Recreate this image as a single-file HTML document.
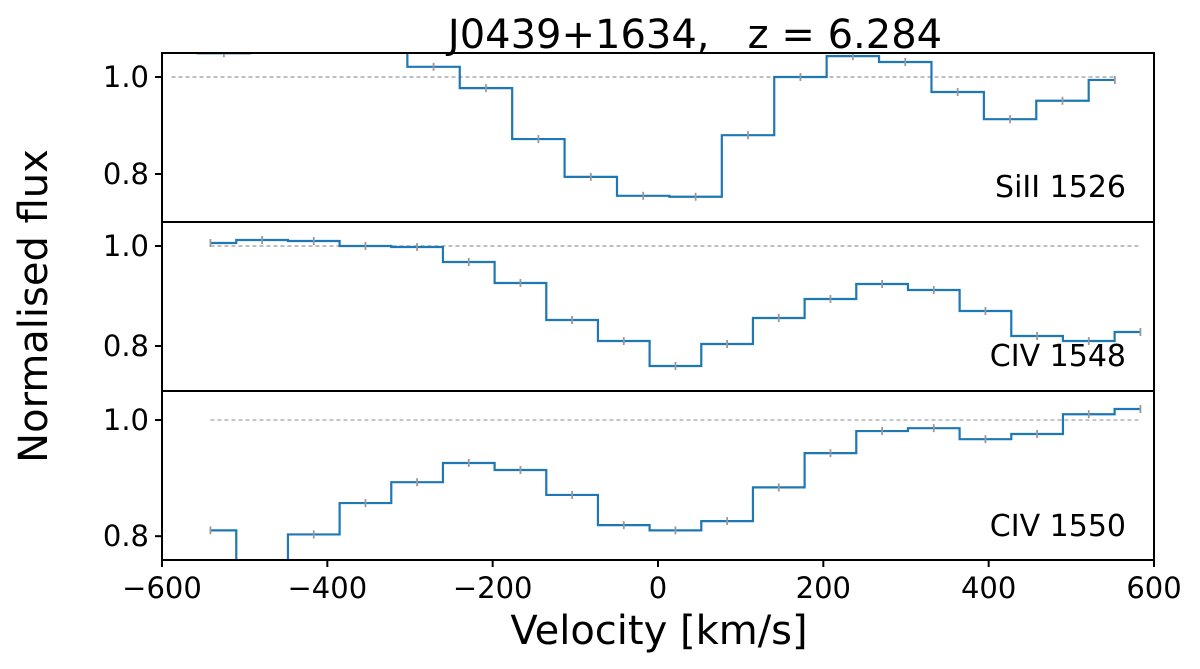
<!DOCTYPE html>
<html><head><meta charset="utf-8"><style>
body{margin:0;background:#fff}
svg{display:block;font-family:"DejaVu Sans","Liberation Sans",sans-serif}
</style></head><body>
<svg id="chart" width="1200" height="669" viewBox="0 0 1200 669" xmlns="http://www.w3.org/2000/svg"></svg>
<script>
// Data
const topVel0 = -588.5, topDv = 63.4;
const siiiFlux = [1.10,1.049,1.10,1.12,1.10,1.021,0.977,0.872,0.794,0.755,0.753,0.880,1.0,1.043,1.031,0.969,0.913,0.951,0.994];
const civVel0 = -541.4, civDv = 62.5;
const civ1548Flux = [1.006,1.012,1.01,1.0,0.998,0.968,0.926,0.852,0.81,0.76,0.804,0.856,0.894,0.924,0.912,0.87,0.82,0.81,0.828];
const civ1550Flux = [0.81,0.745,0.803,0.857,0.893,0.926,0.914,0.871,0.819,0.81,0.826,0.884,0.943,0.981,0.986,0.967,0.976,1.01,1.019];
const xTicks = [-600,-400,-200,0,200,400,600];
const yTicks = [0.8,1.0];
const panelLabels = ["SiII 1526","CIV 1548","CIV 1550"];

const svg = document.getElementById('chart');
const NS = 'http://www.w3.org/2000/svg';
function mk(tag, attrs, parent){const e=document.createElementNS(NS,tag);for(const k in attrs)e.setAttribute(k,attrs[k]);(parent||svg).appendChild(e);return e;}
const X0=162, X1=1154;
const xs = v => X0 + (v+600)/1200*(X1-X0);
const panels = [
  {top:53,bot:222,ymin:0.701,ymax:1.0495,v0:topVel0,dv:topDv,flux:siiiFlux,ly:197},
  {top:222,bot:391,ymin:0.71,ymax:1.048,v0:civVel0,dv:civDv,flux:civ1548Flux,ly:366},
  {top:391,bot:560,ymin:0.759,ymax:1.05,v0:civVel0,dv:civDv,flux:civ1550Flux,ly:536}
];
panels.forEach((p,i)=>{
  const ys = f => p.bot - (f-p.ymin)/(p.ymax-p.ymin)*(p.bot-p.top);
  const cp = mk('clipPath',{id:'c'+i});
  mk('rect',{x:X0,y:p.top,width:X1-X0,height:p.bot-p.top},cp);
  const g = mk('g',{'clip-path':'url(#c'+i+')'});
  
  
  const vel = p.flux.map((_,k)=>p.v0+k*p.dv);
  const dl = mk('line',{x1:xs(vel[0]),x2:xs(vel[vel.length-1]),y1:ys(1),y2:ys(1),stroke:'#999','stroke-width':1.2,'stroke-dasharray':'4,3'},g);
  
  
  let d='';
  vel.forEach((v,k)=>{
    const xl = k===0 ? xs(v) : xs((v+vel[k-1])/2);
    const xr = k===vel.length-1 ? xs(v) : xs((v+vel[k+1])/2);
    const y = ys(p.flux[k]);
    d += (k===0?'M':'L')+xl+','+y+' L'+xr+','+y+' ';
  });
  const path = mk('path',{d:d,fill:'none',stroke:'#1f77b4','stroke-width':2.2},g);
  
  
  vel.forEach((v,k)=>{
    const y=ys(p.flux[k]);
    const e=mk('line',{x1:xs(v),x2:xs(v),y1:y-4,y2:y+4,stroke:'#999','stroke-width':1.8},g);
    
    
  });
  const fr = mk('rect',{x:X0,y:p.top,width:X1-X0,height:p.bot-p.top,fill:'none',stroke:'#000','stroke-width':2});
  
  
  yTicks.forEach(t=>{
    mk('line',{x1:X0-7,x2:X0,y1:ys(t),y2:ys(t),stroke:'#000','stroke-width':2});
    const tl=mk('text',{x:X0-13,y:ys(t)+10,'text-anchor':'end','font-size':29});
    tl.textContent=t.toFixed(1);
    
    
  });
  const lb=mk('text',{x:1126,y:p.ly,'text-anchor':'end','font-size':30});
  lb.textContent=panelLabels[i];
  
  
});
xTicks.forEach(t=>{
  mk('line',{x1:xs(t),x2:xs(t),y1:560,y2:567,stroke:'#000','stroke-width':2});
  const tl=mk('text',{x:xs(t),y:598,'text-anchor':'middle','font-size':29});
  tl.textContent=(t<0?'\u2212':'')+Math.abs(t);
  
  
});
const xl=mk('text',{x:659,y:644,'text-anchor':'middle','font-size':40});
xl.textContent='Velocity [km/s]';


const yl=mk('text',{x:0,y:0,'text-anchor':'middle','font-size':40,transform:'translate(47,306) rotate(-90)'});
yl.textContent='Normalised flux';


const ti=mk('text',{x:695,y:48,'text-anchor':'middle','font-size':40});
ti.textContent='J0439+1634,\u00a0\u00a0\u00a0z = 6.284';


</script>
</body></html>
